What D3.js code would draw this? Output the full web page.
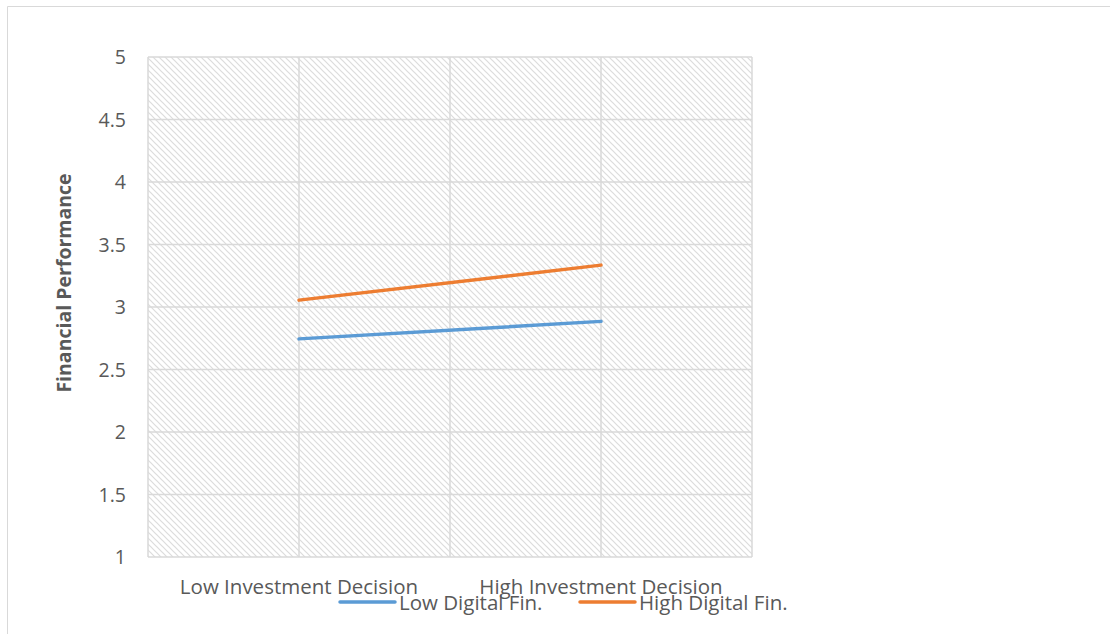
<!DOCTYPE html>
<html><head><meta charset="utf-8">
<script src="https://cdn.jsdelivr.net/npm/d3@7"></script>
<style>body{margin:0;background:#fff;} svg{display:block;}</style>
</head><body>
<script>
const categories = ["Low Investment Decision", "High Investment Decision"];
const seriesNames = ["Low Digital Fin.", "High Digital Fin."];
const lowDigital = [2.745, 2.885];
const highDigital = [3.055, 3.335];
const yTicks = [1, 1.5, 2, 2.5, 3, 3.5, 4, 4.5, 5];
const colors = ["#5B9BD5", "#ED7D31"];

const W = 1110, H = 634;
const svg = d3.select("body").append("svg").attr("width", W).attr("height", H);
const font = "'Open Sans', 'Liberation Sans', sans-serif";

// outer border
svg.append("path").attr("d", `M7.5,${H} V6.5 H${W}`).attr("fill", "none").attr("stroke", "#d9d9d9").attr("stroke-width", 1);

const pL = 148, pR = 752, pT = 57, pB = 557;
const x = d3.scaleLinear().domain([0, 4]).range([pL, pR]);
const y = d3.scaleLinear().domain([1, 5]).range([pB, pT]);
const catPos = [1, 3];

// hatch pattern
const defs = svg.append("defs");
const pat = defs.append("pattern").attr("id", "hatch").attr("patternUnits", "userSpaceOnUse")
  .attr("width", 6).attr("height", 6);
pat.append("rect").attr("width", 6).attr("height", 6).attr("fill", "#fff");
pat.append("path").attr("d", "M-1,-1 L7,7 M-4,2 L2,8 M4,-2 L10,4").attr("stroke", "#dcdcdc").attr("stroke-width", 1.2);

svg.append("rect").attr("x", pL).attr("y", pT).attr("width", pR - pL).attr("height", pB - pT).attr("fill", "url(#hatch)");

// gridlines
const g = svg.append("g");
g.selectAll(".hg").data(yTicks).enter().append("line")
  .attr("x1", pL).attr("x2", pR).attr("y1", d => y(d)).attr("y2", d => y(d))
  .attr("stroke", "#d9d9d9").attr("stroke-width", 1.5);
g.selectAll(".vg").data([0, 1, 2, 3, 4]).enter().append("line")
  .attr("x1", d => x(d)).attr("x2", d => x(d)).attr("y1", pT).attr("y2", pB)
  .attr("stroke", "#d9d9d9").attr("stroke-width", 1.5);

// y axis labels
const yAxis = d3.axisLeft(y).tickValues(yTicks).tickSize(0).tickPadding(0).tickFormat(d3.format("~g"));
const ya = svg.append("g").attr("transform", `translate(126,0)`).call(yAxis);
ya.select(".domain").remove();
ya.selectAll("text").attr("font-family", font).attr("font-size", 19.5).attr("fill", "#595959").attr("dy", "0.35em");

// x labels
svg.selectAll(".xl").data(categories).enter().append("text")
  .attr("x", (d, i) => x(catPos[i])).attr("y", 594).attr("text-anchor", "middle")
  .attr("font-family", font).attr("font-size", 20.5).attr("fill", "#595959").text(d => d);

// y title
svg.append("text").attr("transform", "translate(71,283) rotate(-90)").attr("text-anchor", "middle")
  .attr("font-family", font).attr("font-size", 19.5).attr("font-weight", "bold").attr("fill", "#595959")
  .text("Financial Performance");

// lines
const line = d3.line().x((d, i) => x(catPos[i])).y(d => y(d));
[lowDigital, highDigital].forEach((s, k) => {
  svg.append("path").datum(s).attr("d", line).attr("fill", "none")
    .attr("stroke", colors[k]).attr("stroke-width", 3.5).attr("stroke-linecap", "round");
});

// legend
const legX = [340, 580];
seriesNames.forEach((n, k) => {
  svg.append("line").attr("x1", legX[k]).attr("x2", legX[k] + 55).attr("y1", 602).attr("y2", 602)
    .attr("stroke", colors[k]).attr("stroke-width", 3.5).attr("stroke-linecap", "round");
  svg.append("text").attr("x", legX[k] + 59).attr("y", 610).attr("font-family", font).attr("font-size", 20.5)
    .attr("fill", "#595959").text(n);
});
</script>
</body></html>
